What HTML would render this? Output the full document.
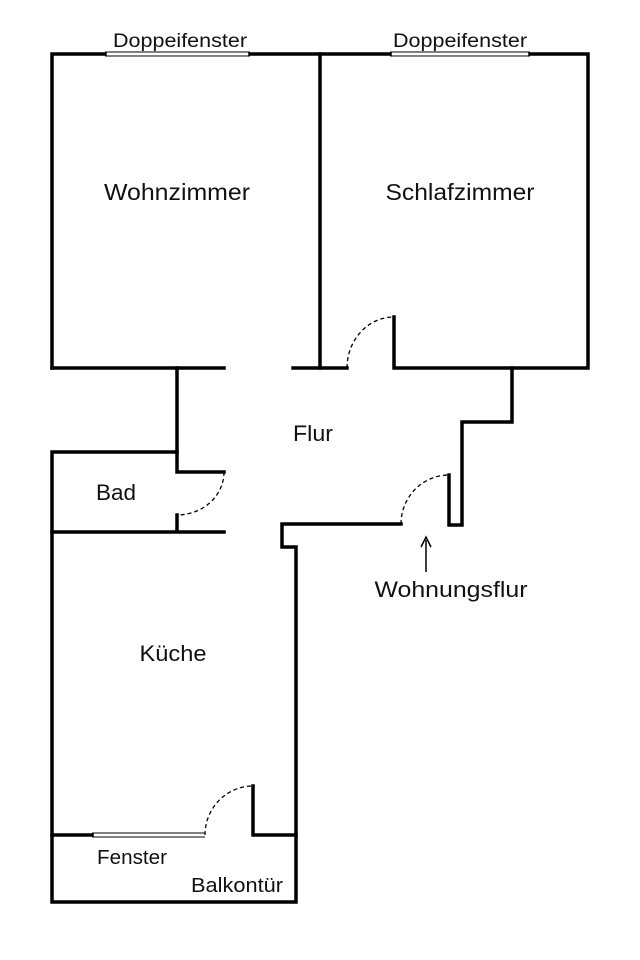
<!DOCTYPE html>
<html><head><meta charset="utf-8"><style>
body{margin:0;background:#fff}
svg{display:block}
text{font-family:"Liberation Sans",sans-serif;fill:#111;text-anchor:middle}
</style></head><body>
<svg width="640" height="960" viewBox="0 0 640 960">
<g stroke="#000" stroke-width="3.5" fill="none" stroke-linecap="square">
<path d="M52 368V54H105M250 54H390M530 54H588V368H394V317"/>
<path d="M320 54V368"/>
<path d="M52 368H224M293 368H347"/>
<path d="M512 368V422H462V525H449V475"/>
<path d="M401 524H282V547H296V902H52V452H177V368"/>
<path d="M177 452V472H224"/>
<path d="M177 515V532M52 532H224"/>
<path d="M52 835H92M253 786V835H296"/>
</g>
<g stroke="#000" stroke-width="1" fill="none">
<path d="M105 52H250M105 56H250M390 52H530M390 56H530M92 833H205M92 837H205"/>
</g>
<g stroke="#000" stroke-width="1.3" fill="none" stroke-dasharray="4 3">
<path d="M347 368A47 51 0 0 1 394 317"/>
<path d="M224 472A47 43 0 0 1 177 515"/>
<path d="M401 524A48 49 0 0 1 449 475"/>
<path d="M205 835A48 49 0 0 1 252 786"/>
</g>
<path d="M426 572V540" stroke="#000" stroke-width="1.5"/>
<path d="M421 547L426 537L431 547" stroke="#000" stroke-width="1.5" fill="none"/>
<text x="180" y="47" font-size="19" textLength="134" lengthAdjust="spacingAndGlyphs">Doppeifenster</text>
<text x="460" y="47" font-size="19" textLength="134" lengthAdjust="spacingAndGlyphs">Doppeifenster</text>
<text x="177" y="200" font-size="23" textLength="146" lengthAdjust="spacingAndGlyphs">Wohnzimmer</text>
<text x="460" y="200" font-size="23" textLength="149" lengthAdjust="spacingAndGlyphs">Schlafzimmer</text>
<text x="313" y="441" font-size="22" textLength="40" lengthAdjust="spacingAndGlyphs">Flur</text>
<text x="116" y="500" font-size="22" textLength="40" lengthAdjust="spacingAndGlyphs">Bad</text>
<text x="173" y="661" font-size="22" textLength="67" lengthAdjust="spacingAndGlyphs">Küche</text>
<text x="451" y="597" font-size="22" textLength="153" lengthAdjust="spacingAndGlyphs">Wohnungsflur</text>
<text x="132" y="864" font-size="20" textLength="70" lengthAdjust="spacingAndGlyphs">Fenster</text>
<text x="237" y="892" font-size="20" textLength="92" lengthAdjust="spacingAndGlyphs">Balkontür</text>
</svg>
</body></html>
